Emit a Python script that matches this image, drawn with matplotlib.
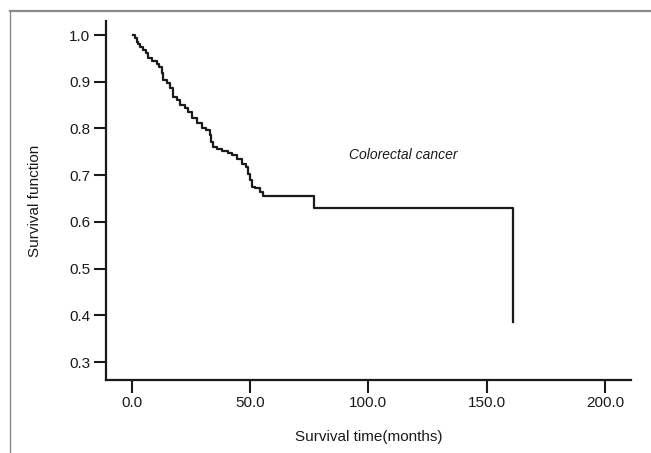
import matplotlib
matplotlib.use("Agg")
import matplotlib.pyplot as plt
from matplotlib.lines import Line2D

plt.rcParams['font.family'] = ['Liberation Sans', 'DejaVu Sans']

# Kaplan-Meier estimate (months, survival after each event)
times = [0.6, 1.2, 2.1, 2.8, 3.5, 4.9, 6.0, 6.8, 8.4, 10.6, 11.7, 12.7, 13.4,
         14.8, 16.2, 17.3, 19.0, 20.4, 22.5, 23.9, 25.3, 27.5, 29.6, 31.4,
         33.1, 33.5, 34.2, 35.9, 38.0, 40.8, 42.2, 44.4, 46.5, 48.3, 49.0,
         50.0, 50.7, 52.1, 54.2, 55.6, 77.2, 161.2]
surv = [1.0, 0.993, 0.986, 0.980, 0.975, 0.968, 0.961, 0.950, 0.945, 0.939,
        0.932, 0.919, 0.904, 0.897, 0.886, 0.868, 0.861, 0.850, 0.843, 0.836,
        0.822, 0.811, 0.802, 0.797, 0.786, 0.772, 0.760, 0.757, 0.752, 0.748,
        0.743, 0.734, 0.724, 0.718, 0.702, 0.690, 0.675, 0.672, 0.664, 0.656,
        0.629, 0.386]

xticks = [0, 50, 100, 150, 200]
yticks = [0.3, 0.4, 0.5, 0.6, 0.7, 0.8, 0.9, 1.0]

fig = plt.figure(figsize=(6.51, 4.53), dpi=100)
ax = fig.add_axes([0.1624, 0.1605, 0.8069, 0.7931])

ax.plot(times, surv, drawstyle='steps-post', color='#1a1a1a', lw=1.6)

ax.set_xlim(-11, 211)
ax.set_ylim(0.261, 1.03)
ax.set_xticks(xticks)
ax.set_xticklabels([f"{v:.1f}" for v in xticks])
ax.set_yticks(yticks)
ax.set_yticklabels([f"{v:.1f}" for v in yticks])

for s in ['top', 'right']:
    ax.spines[s].set_visible(False)
for s in ['left', 'bottom']:
    ax.spines[s].set_linewidth(1.6)
    ax.spines[s].set_color('#1a1a1a')
ax.tick_params(direction='out', length=9, width=1.5, colors='#1a1a1a',
               labelsize=11, pad=2)

ax.set_xlabel('Survival time(months)', fontsize=11, labelpad=15, color='#1a1a1a')
ax.set_ylabel('Survival function', fontsize=11, labelpad=20, color='#1a1a1a')

ax.text(114.6, 0.743, 'Colorectal cancer', style='italic', fontsize=10,
        ha='center', va='center', color='#1a1a1a')

# outer frame (top and left edges only)
fig.add_artist(Line2D([10 / 651, 1], [1 - 10.5 / 453, 1 - 10.5 / 453],
                      transform=fig.transFigure, color='#8a8a8a', lw=1.6))
fig.add_artist(Line2D([10 / 651, 10 / 651], [0, 1 - 10.5 / 453],
                      transform=fig.transFigure, color='#8a8a8a', lw=1.0))

fig.savefig('out.png', dpi=100)
